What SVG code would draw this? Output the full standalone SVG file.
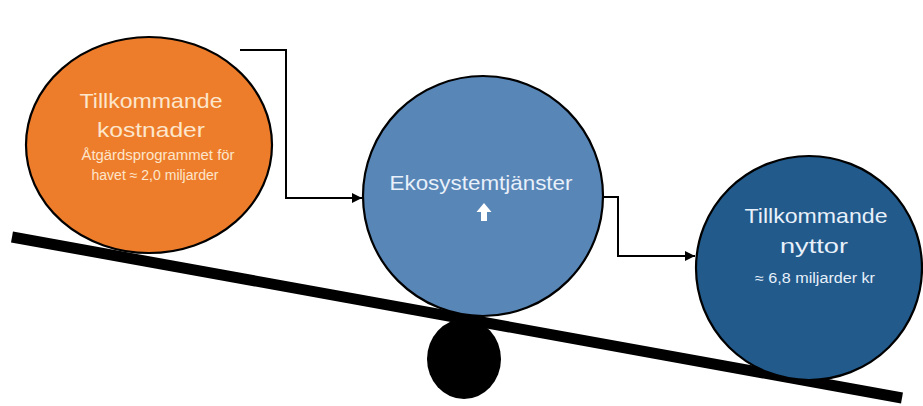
<svg xmlns="http://www.w3.org/2000/svg" width="923" height="406" viewBox="0 0 923 406">
  <defs>
    <marker id="arrow" viewBox="0 0 10 10" refX="10" refY="5" markerWidth="10" markerHeight="10" markerUnits="userSpaceOnUse" orient="auto">
      <path d="M0,0 L10,5 L0,10 z" fill="#000"/>
    </marker>
    <style>
      .node { stroke: #000; stroke-width: 2.2; }
      .conn { fill: none; stroke: #000; stroke-width: 2; }
      .t { font-family: "Liberation Sans", Arial, sans-serif; text-anchor: middle; }
      .big { font-size: 21px; }
      .small { font-size: 14px; }
      .cream { fill: #fce6cc; }
      .pale { fill: #e8f0fa; }
    </style>
  </defs>

  <rect width="923" height="406" fill="#fff"/>

  <!-- seesaw beam -->
  <line id="beam" x1="12" y1="237" x2="902" y2="398" stroke="#000" stroke-width="11"/>

  <!-- connectors -->
  <g id="connectors">
    <polyline class="conn" points="240,50 286,50 286,198 362,198" marker-end="url(#arrow)"/>
    <polyline class="conn" points="602,197 618,197 618,256 695,256" marker-end="url(#arrow)"/>
  </g>

  <!-- cost node -->
  <g id="node-kostnader">
    <ellipse class="node" cx="149" cy="145" rx="123" ry="108" fill="#ee7d2b"/>
    <text class="t big cream" x="151" y="108" textLength="143" lengthAdjust="spacingAndGlyphs">Tillkommande</text>
    <text class="t big cream" x="151" y="137" textLength="108" lengthAdjust="spacingAndGlyphs">kostnader</text>
    <text class="t small cream" x="158" y="160" textLength="153" lengthAdjust="spacingAndGlyphs">Åtgärdsprogrammet för</text>
    <text class="t small cream" x="155" y="180" textLength="127" lengthAdjust="spacingAndGlyphs">havet ≈ 2,0 miljarder</text>
  </g>

  <!-- ecosystem services node -->
  <g id="node-ekosystem">
    <ellipse class="node" cx="483" cy="196" rx="120" ry="120" fill="#5886b7"/>
    <text class="t big pale" x="481" y="190" textLength="183" lengthAdjust="spacingAndGlyphs">Ekosystemtjänster</text>
    <!-- upward arrow -->
    <path d="M484,203 L491.5,212 L487,212 L487,221 L481,221 L481,212 L476.5,212 z" fill="#fff"/>
  </g>

  <!-- benefits node -->
  <g id="node-nyttor">
    <ellipse class="node" cx="809" cy="268" rx="113" ry="112" fill="#215a8b"/>
    <text class="t big pale" x="816" y="223" textLength="143" lengthAdjust="spacingAndGlyphs">Tillkommande</text>
    <text class="t big pale" x="814" y="253" textLength="68" lengthAdjust="spacingAndGlyphs">nyttor</text>
    <text class="t small pale" x="815" y="283" textLength="120" lengthAdjust="spacingAndGlyphs">≈ 6,8 miljarder kr</text>
  </g>

  <!-- fulcrum -->
  <ellipse id="fulcrum" cx="464" cy="359" rx="37" ry="40" fill="#000"/>
</svg>
